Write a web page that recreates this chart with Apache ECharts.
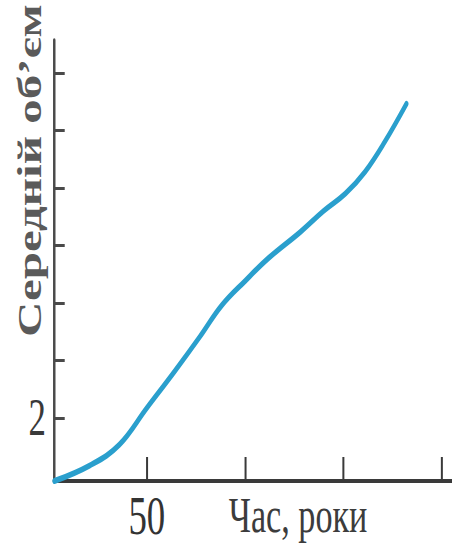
<!DOCTYPE html>
<html>
<head>
<meta charset="utf-8">
<script src="https://cdn.jsdelivr.net/npm/echarts@6/dist/echarts.min.js"></script>
<style>
  html, body { margin: 0; padding: 0; background: #fff; overflow: hidden; width: 452px; height: 550px; }
  /* the reference figure is horizontally condensed; render wider and compress */
  #chart { width: 675px; height: 550px; transform: scaleX(0.67); transform-origin: 0 0; }
</style>
</head>
<body>
<div id="chart"></div>
<script>
// Data
const years  = [3, 21, 36, 50, 64, 77, 88, 100, 112, 128, 140, 151, 161, 171, 182];
const volume = [0.9, 1.17, 1.53, 2.17, 2.80, 3.41, 3.95, 4.38, 4.78, 5.23, 5.60, 5.90, 6.28, 6.80, 7.46];

// Axis ticks and labels
const xTickValues  = [50, 100, 150, 200];
const xLabelValues = [50];
const yTickValues  = [2, 3, 4, 5, 6, 7, 8];
const yLabelValues = [2];

const xAxisName = 'Час, роки';
const yAxisName = 'Середній об’єм';

const points = years.map((x, i) => [x, volume[i]]);

const chart = echarts.init(document.getElementById('chart'), null, { renderer: 'svg' });

const serif = '"Liberation Serif", "DejaVu Serif", serif';

chart.setOption({
  animation: false,
  backgroundColor: '#ffffff',
  grid: { left: 80.6, right: 0, top: 40, bottom: 69, containLabel: false, outerBoundsMode: 'none' },
  xAxis: {
    type: 'value',
    min: 2.8,
    max: 205.3,
    name: xAxisName,
    nameLocation: 'middle',
    nameGap: 8,
    nameMoveOverlap: false,
    nameTextStyle: {
      fontFamily: serif, fontSize: 51, color: '#3c3c3c',
      verticalAlign: 'top', padding: [0, 0, 0, 134]
    },
    axisLine: { show: true, lineStyle: { color: '#3a3a3a', width: 4 } },
    axisTick: {
      show: true, inside: true, length: 24, customValues: xTickValues,
      lineStyle: { color: '#3a3a3a', width: 3 }
    },
    axisLabel: {
      customValues: xLabelValues,
      fontFamily: serif, fontSize: 55, color: '#333333', margin: 7
    },
    splitLine: { show: false }
  },
  yAxis: {
    type: 'value',
    min: 0.9,
    max: 8.57,
    name: yAxisName,
    nameLocation: 'middle',
    nameGap: 12,
    nameMoveOverlap: false,
    nameTextStyle: {
      fontFamily: serif, fontSize: 49, fontWeight: 'bold', color: '#5a5a5a',
      padding: [0, 0, 0, 180]
    },
    axisLine: { show: true, lineStyle: { color: '#4a4a4a', width: 3.7 } },
    axisTick: {
      show: true, inside: true, length: 16, customValues: yTickValues,
      lineStyle: { color: '#4a4a4a', width: 3 }
    },
    axisLabel: {
      customValues: yLabelValues,
      fontFamily: serif, fontSize: 52, color: '#3a3a3a', margin: 12
    },
    splitLine: { show: false }
  },
  series: [{
    type: 'line',
    data: points,
    smooth: 0.4,
    showSymbol: false,
    lineStyle: { color: '#2a9fcd', width: 6, cap: 'round', join: 'round' }
  }]
});
</script>
</body>
</html>
